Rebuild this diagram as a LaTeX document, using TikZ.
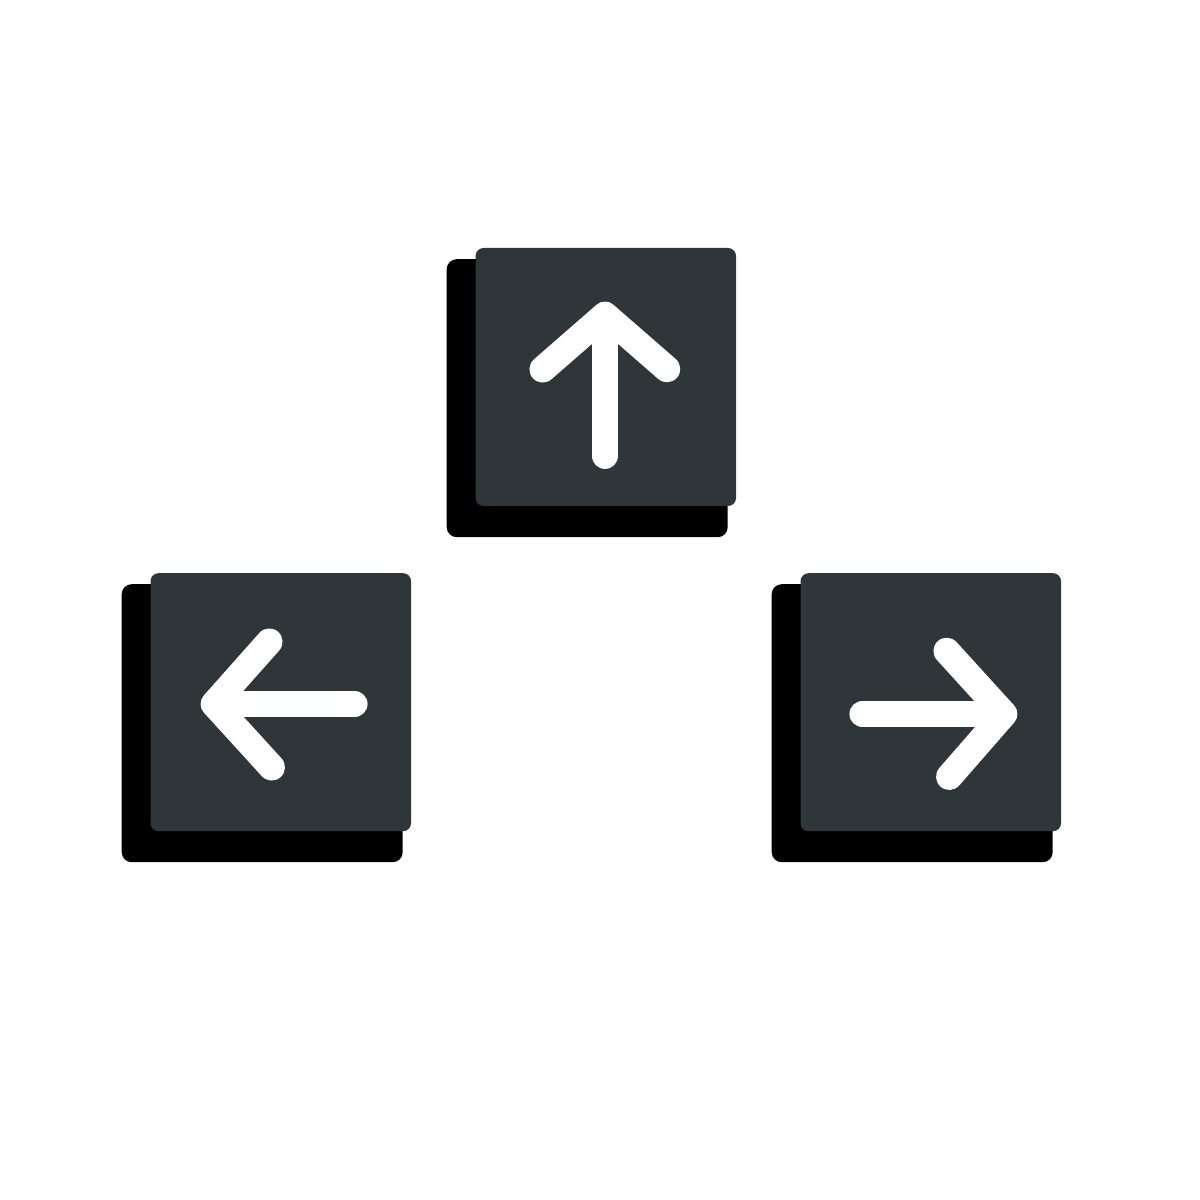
\documentclass[tikz,border=0pt]{standalone}
\definecolor{keygray}{HTML}{2F3639}
\tikzset{
  keyback/.style={fill=black,inner sep=0pt,minimum width=2.81cm,minimum height=2.78cm,rounded corners=0.1cm},
  keyface/.style={fill=keygray,inner sep=0pt,minimum width=2.605cm,minimum height=2.58cm,rounded corners=0.08cm},
  arrowline/.style={white,line width=0.265cm,line cap=round,line join=round}
}
\begin{document}
\begin{tikzpicture}
\useasboundingbox(0,0)rectangle(12,12);
%up key
\node[keyback](upback)at(5.872,8.018){};
\node[keyface](upkey)at(6.058,8.23){};
\coordinate(uptip)at(6.05,8.85);
\draw[arrowline](6.05,7.443)--(uptip);
\draw[arrowline](5.427,8.307)--(uptip)--(6.67,8.31);
%left key
\node[keyback](leftback)at(2.622,4.768){};
\node[keyface](leftkey)at(2.808,4.978){};
\coordinate(lefttip)at(2.14,4.96);
\draw[arrowline](3.543,4.96)--(lefttip);
\draw[arrowline](2.693,5.583)--(lefttip)--(2.717,4.327);
%right key
\node[keyback](rightback)at(9.122,4.768){};
\node[keyface](rightkey)at(9.308,4.978){};
\coordinate(righttip)at(10.04,4.86);
\draw[arrowline](8.627,4.86)--(righttip);
\draw[arrowline](9.467,5.49)--(righttip)--(9.493,4.233);
\end{tikzpicture}
\end{document}
